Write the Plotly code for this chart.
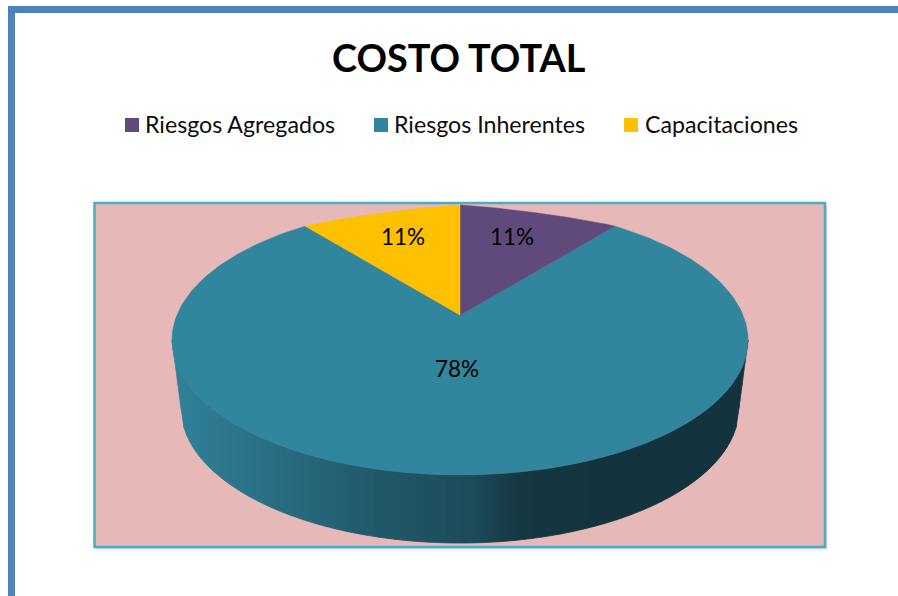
import math
import plotly.graph_objects as go

categories = ["Riesgos Agregados", "Riesgos Inherentes", "Capacitaciones"]
shares = [11, 78, 11]
title_text = "COSTO TOTAL"

colors = ["#604A7B", "#31859C", "#FFC000"]
FONT = "Lato"
CX, CY, RX, RY = 460, 340, 288, 135
AX, AY = 460, 315
BCY, BRX = 408, 279
K = 0.77
wall_stops = [(172, (48, 130, 154)), (300, (39, 104, 124)), (380, (33, 88, 105)),
              (470, (29, 76, 90)), (520, (21, 55, 66)), (600, (19, 52, 62)), (748, (19, 52, 62))]


def project(theta):
    t = math.atan2(K * math.sin(theta), math.cos(theta))
    return t if t >= 0 else t + 2 * math.pi


def wall_color(x):
    for (x0, c0), (x1, c1) in zip(wall_stops, wall_stops[1:]):
        if x <= x1:
            f = (x - x0) / (x1 - x0)
            return "rgb(%d,%d,%d)" % tuple(round(a + (b - a) * f) for a, b in zip(c0, c1))
    return "rgb(19,52,62)"


def wall_top(x):
    d = max(-1, min(1, (x - CX) / RX))
    return CY + RY * math.sqrt(1 - d * d)


def wall_bottom(x):
    d = abs(x - CX)
    if d >= BRX:
        return BCY - (d - BRX) / (RX - BRX) * (BCY - CY)
    return BCY + RY * math.sqrt(1 - (d / BRX) ** 2)


fig = go.Figure()

# side wall, drawn as narrow strips to give the shaded look
x = CX - RX
step = 3
while x < CX + RX:
    x2 = min(x + step, CX + RX)
    xs = [x, x2, x2, x]
    ys = [wall_top(x), wall_top(x2), wall_bottom(x2), wall_bottom(x)]
    c = wall_color((x + x2) / 2)
    fig.add_trace(go.Scatter(x=xs, y=ys, mode="lines", fill="toself", fillcolor=c,
                             line=dict(color=c, width=0.8), hoverinfo="skip", showlegend=False))
    x = x2

# top face of the pie, slices computed from the shares
total = sum(shares)
order = [1, 0, 2]
bounds = []
acc = 0
for s in shares:
    bounds.append((acc / total * 2 * math.pi, (acc + s) / total * 2 * math.pi))
    acc += s
for i in order:
    t0, t1 = project(bounds[i][0]), project(bounds[i][1] - 1e-9)
    xs, ys = [AX], [AY]
    n = 240
    small = shares[i] < 20
    for j in range(n + 1):
        f = j / n
        t = t0 + (t1 - t0) * f
        xs.append(CX + RX * math.sin(t))
        ys.append(CY - RY * math.cos(t) + (3 * math.sin(math.pi * f) if small else 0))
    xs.append(AX)
    ys.append(AY)
    fig.add_trace(go.Scatter(x=xs, y=ys, mode="lines", fill="toself", fillcolor=colors[i],
                             line=dict(color=colors[i], width=0.5), name=categories[i],
                             hoverinfo="name", showlegend=False))

# legend swatches
swatch_x = [132, 381, 631]
fig.add_trace(go.Scatter(x=swatch_x, y=[125] * 3, mode="markers",
                         marker=dict(symbol="square", size=14, color=colors, line=dict(width=0)),
                         hoverinfo="skip", showlegend=False))

legend_x = [143, 392, 643]
annotations = [dict(x=459, y=57, text=f"<b>{title_text}</b>", showarrow=False,
                    font=dict(family=FONT, size=37.8, color="#000000"))]
for lx, name in zip(legend_x, categories):
    annotations.append(dict(x=lx, y=123.5, text=name, showarrow=False, xanchor="left",
                            font=dict(family=FONT, size=23.2, color="#0d0d0d")))
label_pos = [(512, 236), (457, 368), (403, 236)]
for (lx, ly), s in zip(label_pos, shares):
    annotations.append(dict(x=lx, y=ly, text=f"{s}%", showarrow=False,
                            font=dict(family=FONT, size=22.5, color="#000000")))
for a in annotations:
    a["xref"] = "x"
    a["yref"] = "y"

shapes = [
    dict(type="rect", x0=11.5, y0=9.5, x1=1000, y1=800, line=dict(color="#4F81BD", width=7), layer="below"),
    dict(type="rect", x0=96, y0=206, x1=828, y1=551, fillcolor="rgba(0,0,0,0.05)", line=dict(width=0), layer="below"),
    dict(type="rect", x0=95, y0=205, x1=827, y1=549, fillcolor="rgba(0,0,0,0.10)", line=dict(width=0), layer="below"),
    dict(type="rect", x0=94.5, y0=203, x1=825, y1=547, fillcolor="#E6B8B7",
         line=dict(color="#4BACC6", width=2.5), layer="below"),
]

fig.update_layout(
    width=898, height=596, margin=dict(l=0, r=0, t=0, b=0),
    paper_bgcolor="white", plot_bgcolor="white", showlegend=False,
    xaxis=dict(range=[0, 898], visible=False, fixedrange=True),
    yaxis=dict(range=[596, 0], visible=False, fixedrange=True),
    shapes=shapes, annotations=annotations,
)
fig.write_html("out.html", config={"displayModeBar": False},
               post_script="document.body.style.margin='0';document.body.style.overflow='hidden';")
